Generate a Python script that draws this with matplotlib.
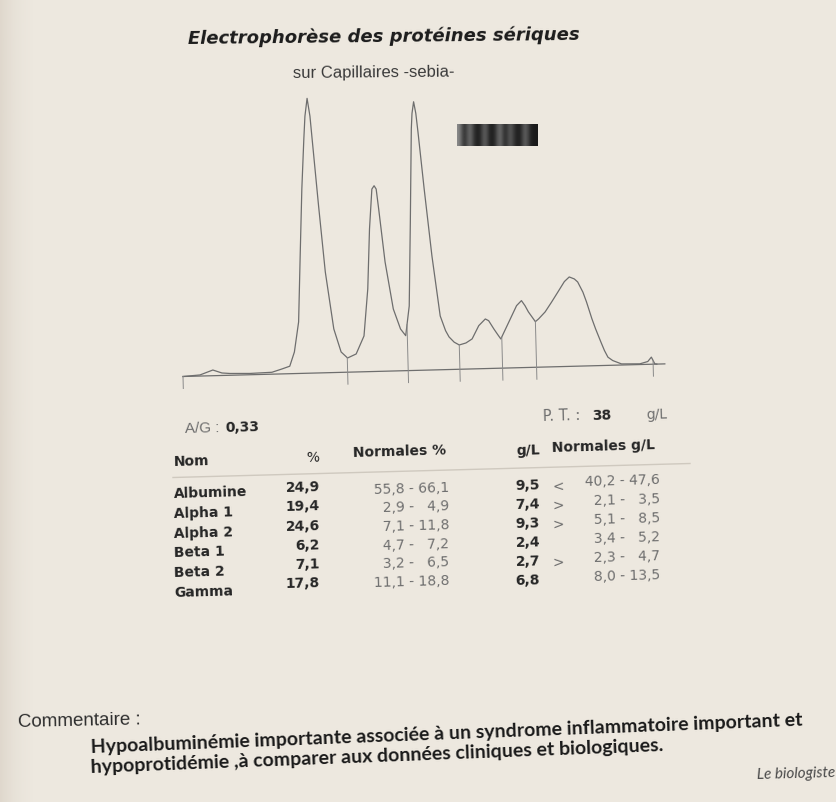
import numpy as np
import matplotlib
matplotlib.use("Agg")
import matplotlib.pyplot as plt
from matplotlib.transforms import Affine2D

# electropherogram trace (position along the run, signal height)
position = [0, 17, 30, 39, 47, 67, 89, 99, 107, 112, 117, 120.3, 123.7, 127, 128.7, 131.3,
            133.7, 135.3, 140, 145, 152, 158.7, 165, 173.7, 182, 187, 190.3, 193.7, 196,
            198, 200, 205, 212, 218.7, 223.7, 228, 231.3, 234.7, 235.8, 237.7, 239.6,
            241.3, 246, 252, 258.7, 263.7, 267, 272, 277, 283.7, 290, 297, 303.7, 307, 312,
            315.3, 318.7, 323.7, 328.7, 335.3, 340.3, 343.7, 347, 353.7, 357, 363.7, 370.3,
            377, 383.7, 388.7, 393.7, 397, 402, 405.3, 410.3, 413.7, 418.7, 422, 425.3, 430,
            438.7, 457, 465, 468.7, 472, 474]
signal = [0, 1.1, 5.7, 2.5, 1.8, 1.3, 1.9, 4.9, 7.5, 21.6, 51.5, 117.7, 184.3, 234.2, 257,
          274.8, 257, 234, 166.9, 100.7, 43.6, 20.4, 14.2, 18, 35.8, 82.7, 142.6, 182.4,
          185.7, 182.3, 162.3, 109.2, 62, 41.8, 35, 64.6, 148.5, 241.4, 257, 268.6, 257,
          238.2, 181.1, 114, 53.8, 38.9, 32.6, 27.2, 24.3, 26.1, 30, 43.1, 49.6, 47.8, 39.4,
          34.3, 29.2, 39.1, 49, 62.1, 67, 61.9, 55.5, 45.6, 48.3, 55.1, 64.6, 74.7, 84.9,
          89.4, 87.3, 84.2, 73.8, 64, 46.9, 36.8, 23.4, 14.9, 8.2, 4.7, 1.1, 0.7, 2.8, 7.1,
          0.3, 0]
fraction_cuts = [0, 164.7, 225.3, 277, 319.7, 353.7, 470.3]

# results table
fractions = ["Albumine", "Alpha 1", "Alpha 2", "Beta 1", "Beta 2", "Gamma"]
pct = ["24,9", "19,4", "24,6", "6,2", "7,1", "17,8"]
pct_norm_low = ["55,8", "2,9", "7,1", "4,7", "3,2", "11,1"]
pct_norm_high = ["66,1", "4,9", "11,8", "7,2", "6,5", "18,8"]
gl = ["9,5", "7,4", "9,3", "2,4", "2,7", "6,8"]
flags = ["<", ">", ">", "", ">", ""]
gl_norm_low = ["40,2", "2,1", "5,1", "3,4", "2,3", "8,0"]
gl_norm_high = ["47,6", "3,5", "8,5", "5,2", "4,7", "13,5"]
ag_ratio = "0,33"
total_protein = "38"

W, H = 836, 803
fig = plt.figure(figsize=(W / 100, H / 100), dpi=100)
fig.patch.set_facecolor("#ede8df")

page = fig.add_axes([0, 0, 1, 1])
page.set_xlim(0, W)
page.set_ylim(H, 0)
page.axis("off")

# soft shadow along the left edge of the photographed sheet
shadow = np.zeros((1, 120, 4))
shadow[..., :3] = np.array([120, 95, 70]) / 255
shadow[..., 3] = np.linspace(0.35, 0, 120) ** 2
page.imshow(shadow, extent=(0, 40, H, 0), aspect="auto", zorder=0)

# --- curve ---
x0, base = 183, 377.5
ax = fig.add_axes([x0 / W, (H - 395) / H, 482 / W, 300 / H])
ax.set_xlim(0, 482)
ax.set_ylim(-17.5, 282.5)
ax.axis("off")
tilt = ax.transData + Affine2D().rotate_deg_around(x0, H - base, 1.5)

ax.plot(position, signal, color="#6e6e6e", lw=0.9, transform=tilt, clip_on=False)
ax.plot([0, 482], [0, 0], color="#6e6e6e", lw=0.9, transform=tilt, clip_on=False)
for c in fraction_cuts:
    top = np.interp(c, position, signal)
    ax.plot([c, c], [top, -12], color="#8a8a8a", lw=0.7, transform=tilt, clip_on=False)

# blurred barcode
bars = np.array([[0.55, 0.1, 0.5, 0.15, 0.1, 0.45, 0.1, 0.15, 0.5, 0.1, 0.4, 0.15, 0.1, 0.45, 0.12, 0.1]])
page.imshow(bars, extent=(457, 538, 147, 125), cmap="gray", vmin=0, vmax=1,
            interpolation="bicubic", aspect="auto", zorder=2)

def put(x, y, s, ha="left", rot=1.6, **kw):
    page.text(x, y, s, ha=ha, va="center", rotation=rot, rotation_mode="anchor", **kw)

# titles
put(384, 37, "Electrophorèse des protéines sériques", ha="center", rot=0.6,
    fontsize=13, fontweight="bold", fontstyle="italic", color="#1c1c1c")
put(374, 73, "sur Capillaires -sebia-", ha="center", rot=0.5,
    fontsize=12, family="Liberation Sans", color="#3a3a3a")

grey = "#6f6f6f"
dark = "#262626"

# summary line
put(185, 429, "A/G :", fontsize=11, family="Liberation Sans", color=grey)
put(225, 428, ag_ratio, fontsize=10, fontweight="bold", color=dark)
put(543, 417, "P. T. :", fontsize=10.5, color=grey)
put(592, 416, total_protein, fontsize=10, fontweight="bold", color=dark)
put(667, 414, "g/L", ha="right", fontsize=10, color=grey)

# header
put(174, 462, "Nom", fontsize=10, fontweight="bold", color=dark)
put(319, 458, "%", ha="right", fontsize=10, color=dark)
put(353, 453, "Normales %", fontsize=10, fontweight="bold", color=dark)
put(540, 450, "g/L", ha="right", fontsize=10, fontweight="bold", color=dark)
put(552, 448, "Normales g/L", fontsize=10, fontweight="bold", color=dark)
page.plot([173, 690], [478.5, 464.5], color="#cfc9bf", lw=1.0)

def norm_range(lo, hi):
    return f"{lo} - " + "  " * (4 - len(hi)) + hi

for i, name in enumerate(fractions):
    put(174, 494 + 19.8 * i, name, fontsize=10, fontweight="bold", color=dark)
    put(320, 487 + 19.3 * i, pct[i], ha="right", fontsize=10, fontweight="bold", color=dark)
    put(449, 488 + 18.6 * i, norm_range(pct_norm_low[i], pct_norm_high[i]), ha="right",
        fontsize=10, color=grey)
    put(540, 485 + 19.0 * i, gl[i], ha="right", fontsize=10, fontweight="bold", color=dark)
    if flags[i]:
        put(552, 487 + 19.0 * i, flags[i], fontsize=10, color=grey)
    put(660, 480 + 19.0 * i, norm_range(gl_norm_low[i], gl_norm_high[i]), ha="right",
        fontsize=10, color=grey)

# comment
put(18, 723, "Commentaire :", rot=1.2, fontsize=13.5, family="Liberation Sans", color="#2e2e2e")
put(91, 748, "Hypoalbuminémie importante associée à un syndrome inflammatoire important et",
    rot=2.2, fontsize=14, fontweight="bold", family="Lato", color="#1a1a1a")
put(91, 768, "hypoprotidémie ,à comparer aux données cliniques et biologiques.",
    rot=2.2, fontsize=14, fontweight="bold", family="Lato", color="#1a1a1a")
put(757, 775, "Le biologiste", rot=1.5, fontsize=11, fontstyle="italic", family="Lato",
    color="#4a4a4a")

fig.savefig("out.png", dpi=100, facecolor=fig.get_facecolor())
